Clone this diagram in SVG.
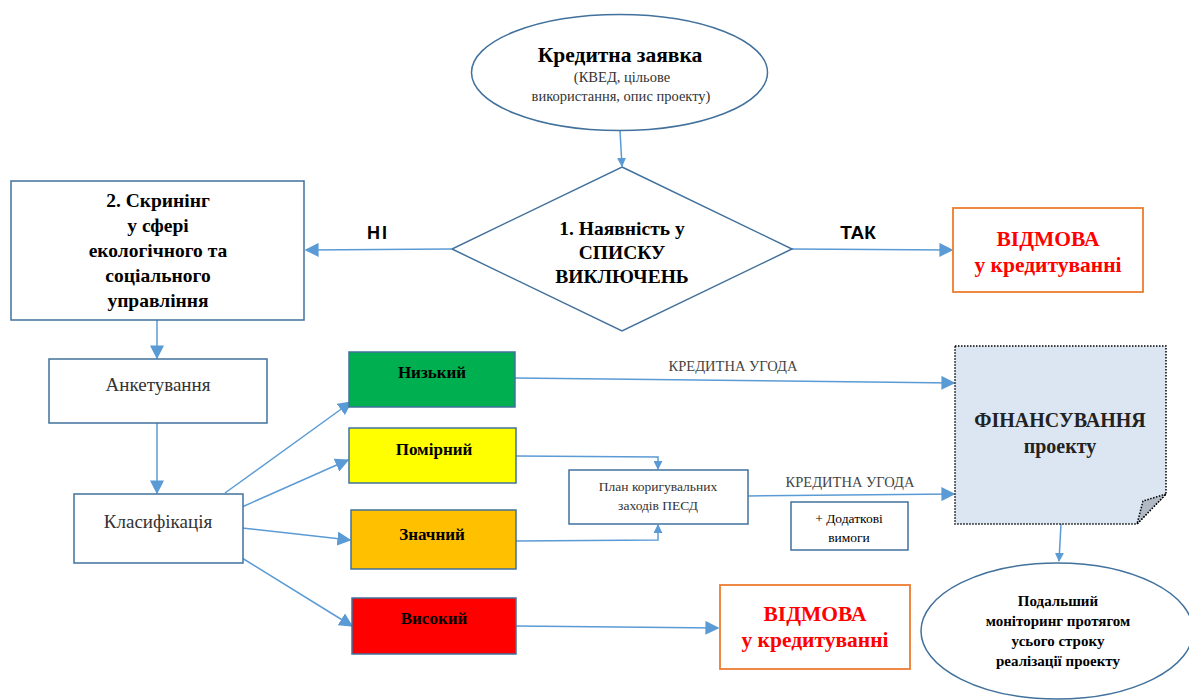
<svg xmlns="http://www.w3.org/2000/svg" width="1189" height="700" viewBox="0 0 1189 700">
<style>
text{font-family:"Liberation Serif","DejaVu Serif",serif;text-anchor:middle;fill:#000}
.b{font-weight:bold}
.box{fill:#fff;stroke:#41719c;stroke-width:1.5}
.ob{fill:#fff;stroke:#ed7d31;stroke-width:1.8}
.c{fill:none;stroke:#5b9bd5;stroke-width:1.5}
.red{fill:#ff0000;font-weight:bold;font-size:21.5px}
.lab{font-size:14.5px;fill:#444}
.gr{fill:#333}
.sans{font-family:"Liberation Sans","DejaVu Sans",sans-serif}
.risk{font-weight:bold;font-size:17px}
</style>
<defs>
<marker id="a" viewBox="0 0 10 10" refX="9" refY="5" markerWidth="9" markerHeight="9" markerUnits="userSpaceOnUse" orient="auto">
<path d="M0,0 L10,5 L0,10 z" fill="#5b9bd5"/>
</marker>
<marker id="a2" viewBox="0 0 10 10" refX="9" refY="5" markerWidth="14" markerHeight="14" markerUnits="userSpaceOnUse" orient="auto">
<path d="M0,0 L10,5 L0,10 z" fill="#5b9bd5"/>
</marker>
</defs>
<g id="connectors">
<path class="c" d="M620,131 L622,166" marker-end="url(#a)"/>
<path class="c" d="M451,249 L306,250" marker-end="url(#a2)"/>
<path class="c" d="M792,249 L952,250" marker-end="url(#a2)"/>
<path class="c" d="M157,320 L157,358" marker-end="url(#a2)"/>
<path class="c" d="M157,423 L157,493" marker-end="url(#a2)"/>
<path class="c" d="M225,493 L351,402" marker-end="url(#a2)"/>
<path class="c" d="M242,507 L348,460" marker-end="url(#a2)"/>
<path class="c" d="M242,528 L350,540" marker-end="url(#a2)"/>
<path class="c" d="M242,558 L352,626" marker-end="url(#a2)"/>
<path class="c" d="M515,378 L954,383" marker-end="url(#a2)"/>
<path class="c" d="M516,456 L658,457 L658,469" marker-end="url(#a)"/>
<path class="c" d="M516,541 L658,540 L658,525" marker-end="url(#a)"/>
<path class="c" d="M748,496 L954,494" marker-end="url(#a2)"/>
<path class="c" d="M1061,524 L1059,561" marker-end="url(#a)"/>
<path class="c" d="M516,626 L718,628" marker-end="url(#a2)"/>
<text x="378" y="239" class="b sans" style="font-size:18px;letter-spacing:2px">НІ</text>
<text x="858" y="239" class="b sans" style="font-size:19px">ТАК</text>
<text x="733" y="371" class="lab">КРЕДИТНА УГОДА</text>
<text x="850" y="487" class="lab">КРЕДИТНА УГОДА</text>
</g>
<g id="n-request">
<ellipse cx="619.5" cy="72.5" rx="148" ry="58" class="box"/>
<text x="620" y="62" class="b" style="font-size:21.5px">Кредитна заявка</text>
<text x="622" y="82" class="gr" style="font-size:14.5px">(КВЕД, цільове</text>
<text x="621" y="101" class="gr" style="font-size:14.5px">використання, опис проекту)</text>
</g>
<g id="n-exclusion">
<polygon points="622,167 792,249 622,331 452,249" class="box"/>
<text x="622" y="235" class="b" style="font-size:19.5px">1. Наявність у</text>
<text x="622" y="259" class="b" style="font-size:19.5px">СПИСКУ</text>
<text x="622" y="283" class="b" style="font-size:19.5px">ВИКЛЮЧЕНЬ</text>
</g>
<g id="n-refuse1">
<rect x="953" y="208" width="190" height="84" class="ob"/>
<text x="1048" y="246" class="red">ВІДМОВА</text>
<text x="1048" y="272" class="red">у кредитуванні</text>
</g>
<g id="n-screening">
<rect x="11" y="181" width="293" height="139" class="box"/>
<text x="158" y="207" class="b" style="font-size:19.5px">2. Скринінг</text>
<text x="158" y="232" class="b" style="font-size:19.5px">у сфері</text>
<text x="158" y="257" class="b" style="font-size:19.5px">екологічного та</text>
<text x="158" y="282" class="b" style="font-size:19.5px">соціального</text>
<text x="158" y="307" class="b" style="font-size:19.5px">управління</text>
</g>
<g id="n-survey">
<rect x="49" y="359" width="218" height="64" class="box"/>
<text x="158" y="391" class="gr" style="font-size:19px">Анкетування</text>
</g>
<g id="n-class">
<rect x="74" y="494" width="169" height="69" class="box"/>
<text x="158" y="528" class="gr" style="font-size:19px">Класифікація</text>
</g>
<g id="n-low">
<rect x="349" y="352" width="166" height="55" fill="#00b050" stroke="#41719c" stroke-width="1.5"/>
<text x="432" y="378" class="risk">Низький</text>
</g>
<g id="n-moderate">
<rect x="349" y="428" width="167" height="55" fill="#ffff00" stroke="#41719c" stroke-width="1.5"/>
<text x="434" y="455" class="risk">Помірний</text>
</g>
<g id="n-significant">
<rect x="351" y="510" width="165" height="59" fill="#ffc000" stroke="#41719c" stroke-width="1.5"/>
<text x="432" y="540" class="risk">Значний</text>
</g>
<g id="n-high">
<rect x="352" y="598" width="164" height="56" fill="#ff0000" stroke="#41719c" stroke-width="1.5"/>
<text x="434" y="624" class="risk">Високий</text>
</g>
<g id="n-plan">
<rect x="569" y="470" width="179" height="54" class="box"/>
<text x="658" y="491" class="gr" style="font-size:13.5px">План коригувальних</text>
<text x="658" y="510" class="gr" style="font-size:13.5px">заходів ПЕСД</text>
</g>
<g id="n-extra">
<rect x="791" y="502" width="117" height="48" class="box"/>
<text x="849" y="523" style="font-size:13.5px">+ Додаткові</text>
<text x="849" y="542" style="font-size:13.5px">вимоги</text>
</g>
<g id="n-finance">
<path d="M955,346 L1166,346 L1166,494 L1137,524 L955,524 Z" fill="#dce6f2" stroke="#000" stroke-width="1.5" stroke-dasharray="1.5,1.5"/>
<path d="M1166,494 L1143,501 L1137,524 Z" fill="#b0b9c4" stroke="#000" stroke-width="1.5" stroke-dasharray="1.5,1.5"/>
<text x="1060" y="427" class="b" style="font-size:20px;fill:#222">ФІНАНСУВАННЯ</text>
<text x="1060" y="453" class="b" style="font-size:20px;fill:#222">проекту</text>
</g>
<g id="n-monitor">
<ellipse cx="1057" cy="631" rx="136" ry="68" class="box"/>
<text x="1058" y="606" class="b" style="font-size:15px">Подальший</text>
<text x="1058" y="626" class="b" style="font-size:15px">моніторинг  протягом</text>
<text x="1058" y="646" class="b" style="font-size:15px">усього строку</text>
<text x="1058" y="666" class="b" style="font-size:15px">реалізації проекту</text>
</g>
<g id="n-refuse2">
<rect x="720" y="585" width="190" height="84" class="ob"/>
<text x="815" y="621" class="red">ВІДМОВА</text>
<text x="815" y="647" class="red">у кредитуванні</text>
</g>
</svg>
